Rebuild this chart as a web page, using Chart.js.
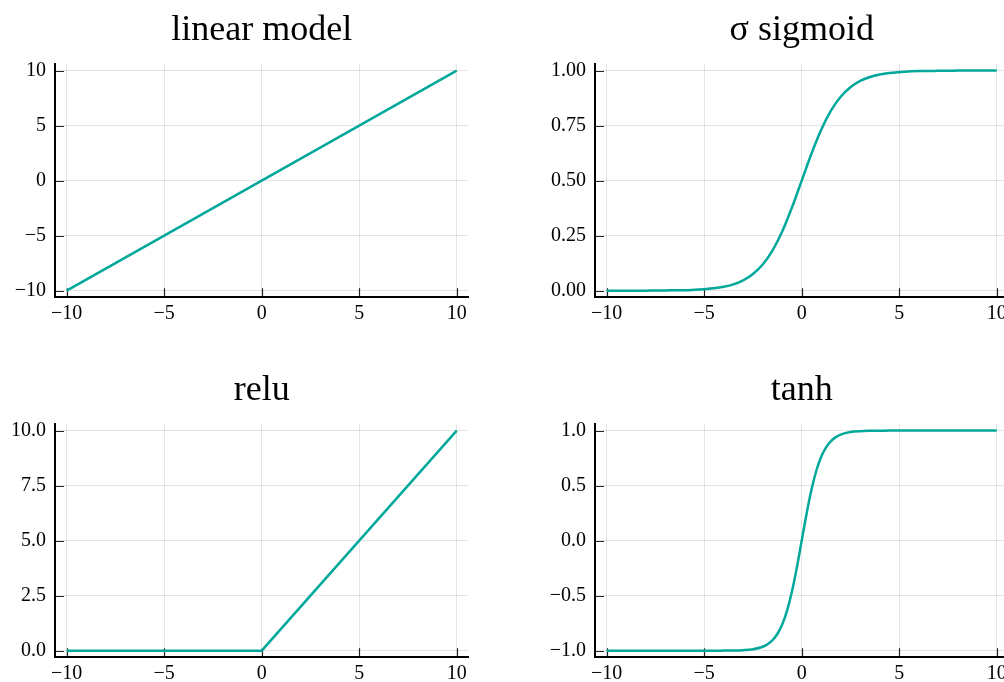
<!DOCTYPE html>
<html>
<head>
<meta charset="utf-8">
<script src="https://cdn.jsdelivr.net/npm/chart.js@4/dist/chart.umd.min.js"></script>
<style>
  html, body { margin: 0; padding: 0; background: #fff; overflow: hidden; }
  #wrap { position: relative; width: 1004px; height: 682px; overflow: hidden; background: #fff; }
  #wrap canvas { position: absolute; }
</style>
</head>
<body>
<div id="wrap">
  <canvas id="pLinear"  width="480" height="322" style="left:0px;top:0px"></canvas>
  <canvas id="pSigmoid" width="480" height="322" style="left:540px;top:0px"></canvas>
  <canvas id="pRelu"    width="480" height="322" style="left:0px;top:360px"></canvas>
  <canvas id="pTanh"    width="480" height="322" style="left:540px;top:360px"></canvas>
</div>
<script>
// ---- data ----
const xTicks  = [-10, -5, 0, 5, 10];
const xLabels = ['\u221210', '\u22125', '0', '5', '10'];

const linearX = [-10, -5, 0, 5, 10];
const linearY = [-10, -5, 0, 5, 10];
const linearTicks  = [-10, -5, 0, 5, 10];
const linearLabels = ['\u221210', '\u22125', '0', '5', '10'];

const sigmoidX = [-10, -9.5, -9, -8.5, -8, -7.5, -7, -6.5, -6, -5.5, -5, -4.5, -4, -3.5, -3, -2.5, -2, -1.5, -1, -0.5,
                  0, 0.5, 1, 1.5, 2, 2.5, 3, 3.5, 4, 4.5, 5, 5.5, 6, 6.5, 7, 7.5, 8, 8.5, 9, 9.5, 10];
const sigmoidY = [0.000, 0.000, 0.000, 0.000, 0.000, 0.001, 0.001, 0.002, 0.002, 0.004, 0.007, 0.011, 0.018, 0.029,
                  0.047, 0.076, 0.119, 0.182, 0.269, 0.378, 0.500, 0.622, 0.731, 0.818, 0.881, 0.924, 0.953, 0.971,
                  0.982, 0.989, 0.993, 0.996, 0.998, 0.998, 0.999, 0.999, 1.000, 1.000, 1.000, 1.000, 1.000];
const sigmoidTicks  = [0, 0.25, 0.5, 0.75, 1];
const sigmoidLabels = ['0.00', '0.25', '0.50', '0.75', '1.00'];

const reluX = [-10, -5, 0, 5, 10];
const reluY = [0, 0, 0, 5, 10];
const reluTicks  = [0, 2.5, 5, 7.5, 10];
const reluLabels = ['0.0', '2.5', '5.0', '7.5', '10.0'];

const tanhX = [-10, -9, -8, -7, -6, -5, -4.5, -4, -3.5, -3, -2.5, -2, -1.75, -1.5, -1.25, -1, -0.75, -0.5, -0.25,
               0, 0.25, 0.5, 0.75, 1, 1.25, 1.5, 1.75, 2, 2.5, 3, 3.5, 4, 4.5, 5, 6, 7, 8, 9, 10];
const tanhY = [-1.000, -1.000, -1.000, -1.000, -1.000, -1.000, -1.000, -0.999, -0.998, -0.995, -0.987, -0.964,
               -0.941, -0.905, -0.848, -0.762, -0.635, -0.462, -0.245, 0.000, 0.245, 0.462, 0.635, 0.762, 0.848,
               0.905, 0.941, 0.964, 0.987, 0.995, 0.998, 0.999, 1.000, 1.000, 1.000, 1.000, 1.000, 1.000, 1.000];
const tanhTicks  = [-1, -0.5, 0, 0.5, 1];
const tanhLabels = ['\u22121.0', '\u22120.5', '0.0', '0.5', '1.0'];

// ---- styling ----
const FONT = "'Liberation Serif', 'DejaVu Serif', serif";
const LINE_COLOR = '#00a89b';
const GRID_COLOR = 'rgba(0,0,0,0.10)';

Chart.defaults.font.family = FONT;
Chart.defaults.color = '#000';

// short tick marks pointing into the plot area
const innerTicks = {
  id: 'innerTicks',
  beforeDatasetsDraw(chart) {
    const { ctx, chartArea, scales } = chart;
    const len = 9;
    ctx.save();
    ctx.strokeStyle = 'rgba(0,0,0,0.85)';
    ctx.lineWidth = 1.2;
    ctx.beginPath();
    scales.x.ticks.forEach(t => {
      const px = Math.round(scales.x.getPixelForValue(t.value)) + 0.5;
      ctx.moveTo(px, chartArea.bottom);
      ctx.lineTo(px, chartArea.bottom - len);
    });
    scales.y.ticks.forEach(t => {
      const py = Math.round(scales.y.getPixelForValue(t.value)) + 0.5;
      ctx.moveTo(chartArea.left, py);
      ctx.lineTo(chartArea.left + len, py);
    });
    ctx.stroke();
    ctx.restore();
  }
};

function panel(id, title, xs, ys, yMin, yMax, yTicks, yLabels, smooth) {
  const points = xs.map((x, i) => ({ x: x, y: ys[i] }));
  return new Chart(document.getElementById(id), {
    type: 'line',
    data: {
      datasets: [{
        data: points,
        borderColor: LINE_COLOR,
        borderWidth: 2.5,
        pointRadius: 0,
        fill: false,
        tension: smooth ? 0.4 : 0,
        cubicInterpolationMode: smooth ? 'monotone' : 'default'
      }]
    },
    options: {
      responsive: false,
      animation: false,
      devicePixelRatio: 1,
      events: [],
      layout: { padding: { top: 0, left: 0, right: 11.6, bottom: 0 } },
      plugins: {
        legend: { display: false },
        tooltip: { enabled: false },
        title: {
          display: true,
          text: title,
          fullSize: false,
          color: '#000',
          font: { family: FONT, size: 36, weight: 'normal' },
          padding: { top: 8.9, bottom: 11.9 }
        }
      },
      scales: {
        x: {
          type: 'linear',
          min: -10.6,
          max: 10.6,
          afterBuildTicks: s => { s.ticks = xTicks.map(v => ({ value: v })); },
          afterFit: s => { s.height = 24.7; s.paddingLeft = 0; s.paddingRight = 0; },
          grid: { color: GRID_COLOR, lineWidth: 1, drawTicks: false },
          border: { display: true, color: '#000', width: 2 },
          ticks: {
            autoSkip: false, maxRotation: 0, padding: 4.5, color: '#000',
            font: { size: 20 },
            callback: v => xLabels[xTicks.indexOf(v)]
          }
        },
        y: {
          type: 'linear',
          min: yMin,
          max: yMax,
          afterBuildTicks: s => { s.ticks = yTicks.map(v => ({ value: v })); },
          afterFit: s => { s.width = 55; s.paddingTop = 0; s.paddingBottom = 0; },
          grid: { color: GRID_COLOR, lineWidth: 1, drawTicks: false },
          border: { display: true, color: '#000', width: 2 },
          ticks: {
            autoSkip: false, padding: 9, color: '#000',
            font: { size: 20 },
            callback: v => yLabels[yTicks.indexOf(v)]
          }
        }
      }
    },
    plugins: [innerTicks]
  });
}

panel('pLinear',  'linear model', linearX,  linearY,  -10.6, 10.6, linearTicks,  linearLabels,  false);
panel('pSigmoid', '\u03C3 sigmoid', sigmoidX, sigmoidY, -0.03, 1.03, sigmoidTicks, sigmoidLabels, true);
panel('pRelu',    'relu',         reluX,    reluY,    -0.3, 10.3,   reluTicks,    reluLabels,    false);
panel('pTanh',    'tanh',         tanhX,    tanhY,    -1.06, 1.06,  tanhTicks,    tanhLabels,    true);
</script>
</body>
</html>
